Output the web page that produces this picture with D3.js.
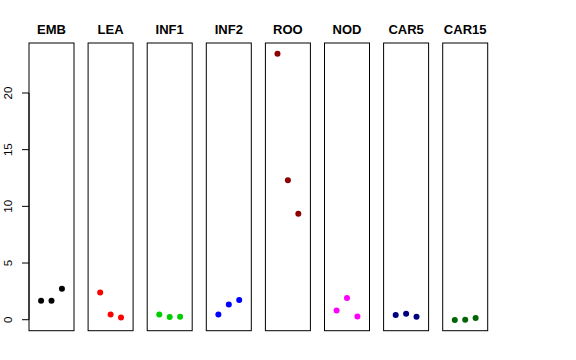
<!DOCTYPE html>
<html>
<head>
<meta charset="utf-8">
<script src="https://cdn.jsdelivr.net/npm/d3@7"></script>
<style>
  body { margin: 0; background: #fff; }
  svg { display: block; font-family: "Liberation Sans", Arial, sans-serif; }
</style>
</head>
<body>
<svg id="chart" width="576" height="360"></svg>
<script>
// Panels of three points each, one colour per tissue
const tissues = ["EMB", "LEA", "INF1", "INF2", "ROO", "NOD", "CAR5", "CAR15"];
const colors = ["#000000", "#ff0000", "#00cd00", "#0000ff", "#8b0000", "#ff00ff", "#000080", "#006400"];
const values = [
  [1.68, 1.68, 2.73],
  [2.41, 0.47, 0.2],
  [0.47, 0.24, 0.26],
  [0.47, 1.35, 1.74],
  [23.47, 12.3, 9.35],
  [0.82, 1.91, 0.29],
  [0.41, 0.53, 0.26],
  [-0.03, 0.0, 0.15]
];
const yTicks = [0, 5, 10, 15, 20];

const svg = d3.select("#chart");
const plotTop = 43, plotBottom = 330.7;

const panel = d3.scaleBand()
  .domain(tissues)
  .range([29, 487.7])
  .paddingInner(0.2386)
  .paddingOuter(0);

const x = d3.scaleLinear().domain([-0.16, 4.16]).range([0, panel.bandwidth()]);

// R-style 4% extension of the data range
const all = values.flat();
const lo = d3.min(all), hi = d3.max(all);
const ext = (hi - lo) * 0.04;
const y = d3.scaleLinear().domain([lo - ext, hi + ext]).range([plotBottom, plotTop]);

// Y axis on the left of the first panel
const axisX = panel(tissues[0]);
const axis = svg.append("g");
axis.append("line")
  .attr("x1", axisX).attr("x2", axisX)
  .attr("y1", y(yTicks[0])).attr("y2", y(yTicks[yTicks.length - 1]))
  .attr("stroke", "#000");
yTicks.forEach(t => {
  axis.append("line")
    .attr("x1", axisX - 7).attr("x2", axisX)
    .attr("y1", y(t)).attr("y2", y(t))
    .attr("stroke", "#000");
  axis.append("text")
    .attr("transform", `translate(11.5,${y(t)}) rotate(-90)`)
    .attr("text-anchor", "middle")
    .attr("font-size", 11.5)
    .attr("fill", "#000")
    .text(t);
});

tissues.forEach((name, i) => {
  const g = svg.append("g").attr("transform", `translate(${panel(name)},0)`);

  g.append("rect")
    .attr("x", 0).attr("y", plotTop)
    .attr("width", panel.bandwidth()).attr("height", plotBottom - plotTop)
    .attr("fill", "none")
    .attr("stroke", "#000");

  g.append("text")
    .attr("x", panel.bandwidth() / 2)
    .attr("y", 34)
    .attr("text-anchor", "middle")
    .attr("font-size", 13)
    .attr("font-weight", 700)
    .text(name);

  g.selectAll("circle")
    .data(values[i])
    .enter()
    .append("circle")
    .attr("cx", (d, j) => x(j + 1))
    .attr("cy", d => y(d))
    .attr("r", 3)
    .attr("fill", colors[i]);
});
</script>
</body>
</html>
